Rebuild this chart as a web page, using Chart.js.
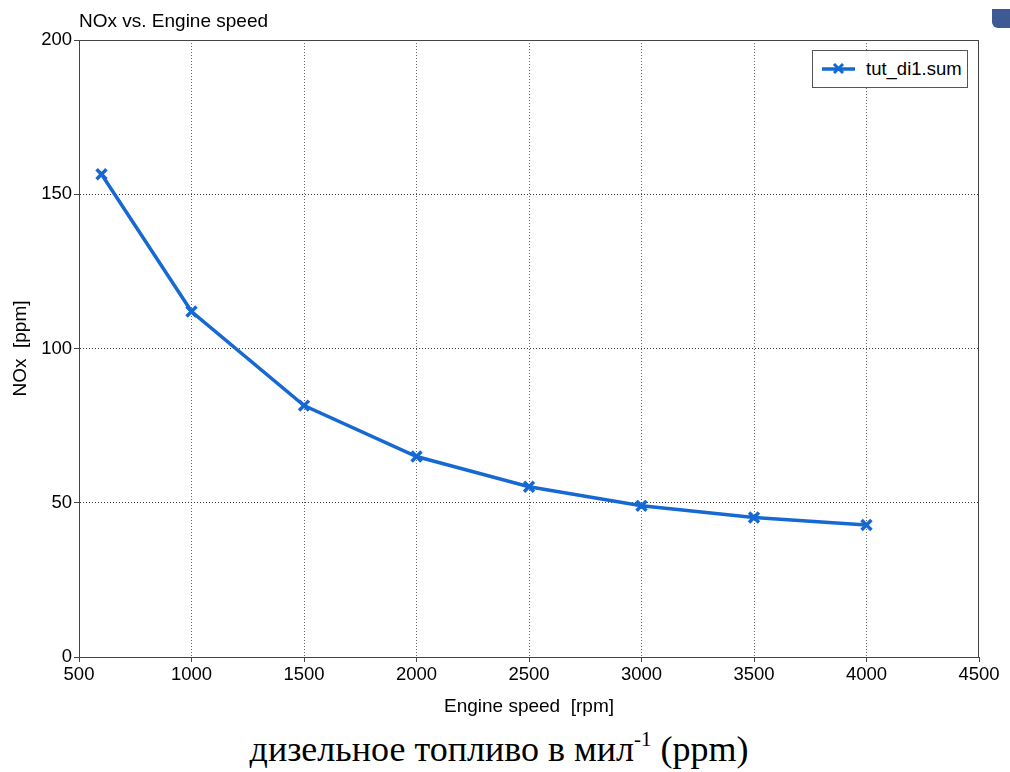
<!DOCTYPE html>
<html lang="ru">
<head>
  <meta charset="UTF-8" />
  <title>NOx vs. Engine speed</title>
  <script src="https://cdn.jsdelivr.net/npm/chart.js"></script>
  <style>
    body { margin: 0; background: #fff; width: 1010px; height: 772px; position: relative; overflow: hidden; font-family: "Liberation Sans", Arial, sans-serif; }
    #chart { position: absolute; left: 0; top: 0; }
    .title { position: absolute; left: 79px; top: 10px; font-size: 19px; line-height: 22px; color: #000; }
    .legend { position: absolute; left: 812px; top: 50px; width: 154px; height: 36px; border: 1px solid #555; background: #fff; display: flex; align-items: center; font-size: 18.5px; }
    .legend svg { margin-left: 9px; margin-right: 11px; }
    .caption { position: absolute; left: 0; width: 998px; top: 728px; text-align: center; font-family: "Liberation Serif", "Times New Roman", serif; font-size: 36px; color: #000; }
    .caption sup { font-size: 21px; vertical-align: 15px; line-height: 0; }
    .corner { position: absolute; left: 992px; top: 9px; width: 24px; height: 19px; background: #3d5a94; border-radius: 0 0 0 6px; }
  </style>
</head>
<body>
  <canvas id="chart" width="1010" height="722"></canvas>
  <div class="title">NOx vs. Engine speed</div>
  <div class="legend">
    <svg width="33" height="14" viewBox="0 0 33 14">
      <line x1="0" y1="7" x2="33" y2="7" stroke="#1669d3" stroke-width="3.5" />
      <path d="M12 2 L21 11 M21 2 L12 11" stroke="#1669d3" stroke-width="3" />
    </svg>
    <span>tut_di1.sum</span>
  </div>
  <div class="corner"></div>
  <div class="caption">дизельное топливо в мил<sup>-1</sup> (ppm)</div>

  <script>
    const seriesName = 'tut_di1.sum';
    const engineSpeed = [600, 1000, 1500, 2000, 2500, 3000, 3500, 4000];
    const noxPpm = [156.5, 112, 81.5, 65, 55.2, 49, 45.2, 42.8];
    const xTicks = [500, 1000, 1500, 2000, 2500, 3000, 3500, 4000, 4500];
    const yTicks = [0, 50, 100, 150, 200];

    const blue = '#1669d3';

    // solid frame round the plot area, drawn under the line
    const framePlugin = {
      id: 'frame',
      beforeDatasetsDraw(chart) {
        const { ctx, chartArea: a } = chart;
        ctx.save();
        ctx.strokeStyle = '#444';
        ctx.lineWidth = 1;
        ctx.strokeRect(a.left + 0.5, a.top + 0.5, a.right - a.left - 1, a.bottom - a.top);
        ctx.restore();
      }
    };

    const tickFont = { family: '"Liberation Sans", Arial, sans-serif', size: 18.5 };
    const titleFont = { family: '"Liberation Sans", Arial, sans-serif', size: 19 };

    new Chart(document.getElementById('chart').getContext('2d'), {
      type: 'line',
      data: {
        datasets: [{
          label: seriesName,
          data: engineSpeed.map((s, i) => ({ x: s, y: noxPpm[i] })),
          borderColor: blue,
          backgroundColor: blue,
          borderWidth: 3.5,
          pointStyle: 'crossRot',
          pointRadius: 7,
          pointBorderWidth: 3.5,
          pointHoverRadius: 7,
          tension: 0,
          fill: false
        }]
      },
      options: {
        responsive: false,
        animation: false,
        devicePixelRatio: 1,
        layout: { padding: { top: 40, right: 31, left: 0, bottom: 0 } },
        plugins: {
          legend: { display: false },
          title: { display: false },
          tooltip: { enabled: false }
        },
        scales: {
          x: {
            type: 'linear',
            min: xTicks[0],
            max: xTicks[xTicks.length - 1],
            afterBuildTicks: s => { s.ticks = xTicks.map(v => ({ value: v })); },
            afterFit: s => { s.height = 65; },
            grid: {
              color: ctx => (ctx.index === 0 || ctx.index === xTicks.length - 1) ? 'rgba(0,0,0,0)' : '#6a6a6a',
              tickColor: '#444',
              tickLength: 5,
              lineWidth: 1
            },
            border: { color: '#444', width: 1, dash: [1, 2] },
            ticks: { color: '#000', font: tickFont, padding: 2, maxRotation: 0, callback: v => String(v) },
            title: {
              display: true,
              text: 'Engine speed  [rpm]',
              color: '#000',
              font: titleFont,
              padding: { top: 0, bottom: 4 }
            }
          },
          y: {
            min: yTicks[0],
            max: yTicks[yTicks.length - 1],
            afterBuildTicks: s => { s.ticks = yTicks.map(v => ({ value: v })); },
            afterFit: s => { s.width = 79; },
            grid: {
              color: ctx => (ctx.index === 0 || ctx.index === yTicks.length - 1) ? 'rgba(0,0,0,0)' : '#3a3a3a',
              tickColor: '#444',
              tickLength: 5,
              lineWidth: 1
            },
            border: { color: '#444', width: 1, dash: [1, 2] },
            ticks: { color: '#000', font: tickFont, padding: 2, callback: v => String(v) },
            title: {
              display: true,
              text: 'NOx  [ppm]',
              color: '#000',
              font: titleFont,
              padding: { top: 9, bottom: 0 }
            }
          }
        }
      },
      plugins: [framePlugin]
    });
  </script>
</body>
</html>
